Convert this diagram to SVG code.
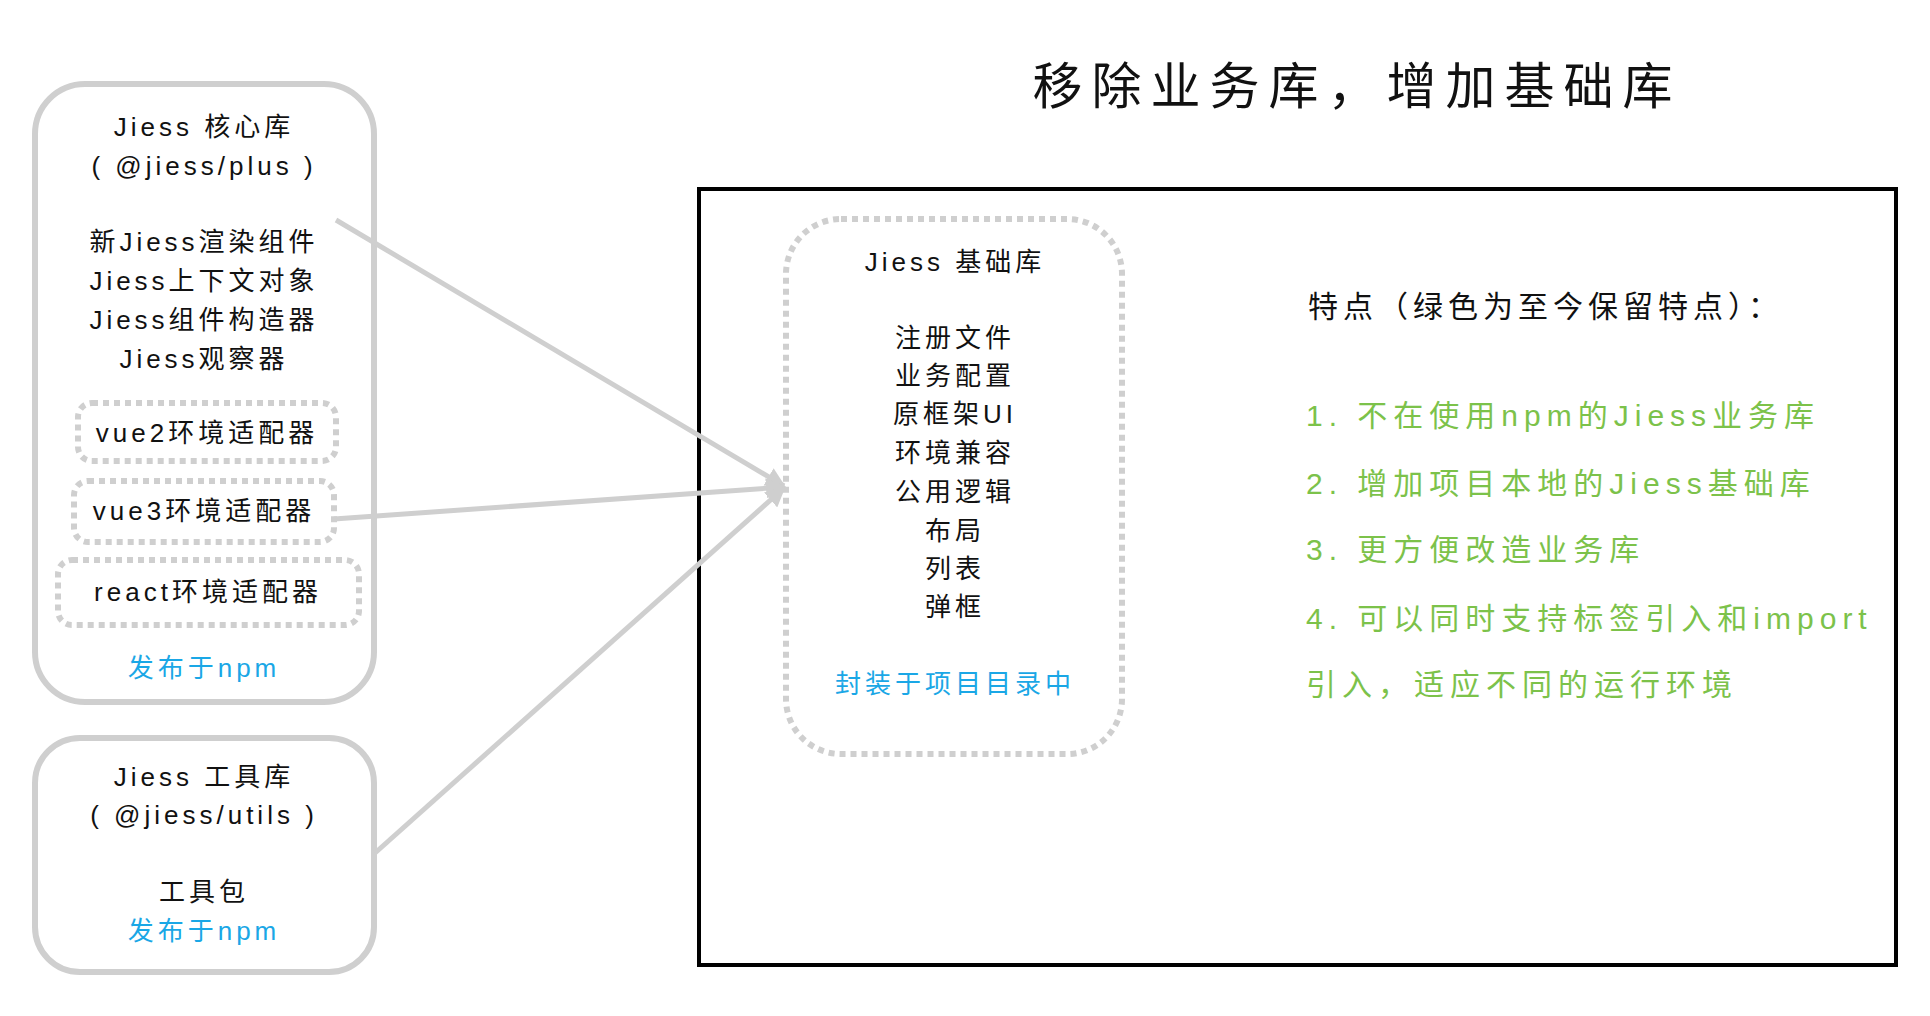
<svg xmlns="http://www.w3.org/2000/svg" width="1930" height="1016" viewBox="0 0 1930 1016">
<style>
text{font-family:"Liberation Sans","Noto Sans CJK SC",sans-serif;font-size:26px;fill:#111;text-anchor:middle;letter-spacing:4px}
.blue{fill:#1aa7e6}
.green{fill:#7cc24a;text-anchor:start;font-size:30px;letter-spacing:6px}
.solid{fill:#fff;stroke:#cfcfcf;stroke-width:6}
.dot{fill:none;stroke:#cfcfcf;stroke-width:6;stroke-dasharray:6 5}
.conn{stroke:#cfcfcf;stroke-width:5;fill:none}
</style>
<defs><marker id="ah" viewBox="0 0 10 10" refX="9" refY="5" markerWidth="4" markerHeight="4" orient="auto"><path d="M0,0L10,5L0,10z" fill="#cfcfcf"/></marker></defs>
<rect width="1930" height="1016" fill="#fff"/>
<text x="1357" y="104" style="font-size:50px;letter-spacing:9px">移除业务库，增加基础库</text>
<g id="core">
<rect class="solid" x="35" y="84" width="339" height="618" rx="50"/>
<text x="204" y="136">Jiess 核心库</text>
<text x="204" y="175">( @jiess/plus )</text>
<text x="204" y="251">新Jiess渲染组件</text>
<text x="204" y="290">Jiess上下文对象</text>
<text x="204" y="329">Jiess组件构造器</text>
<text x="204" y="368">Jiess观察器</text>
<text x="204" y="677" class="blue">发布于npm</text>
</g>
<g id="vue2"><rect class="dot" x="78" y="403" width="258" height="58" rx="14"/><text x="207" y="442">vue2环境适配器</text></g>
<g id="vue3"><rect class="dot" x="74" y="481" width="260" height="61" rx="14"/><text x="204" y="520">vue3环境适配器</text></g>
<g id="react"><rect class="dot" x="58" y="560" width="301" height="65" rx="14"/><text x="208" y="601">react环境适配器</text></g>
<g id="utils">
<rect class="solid" x="35" y="738" width="339" height="234" rx="45"/>
<text x="204" y="786">Jiess 工具库</text>
<text x="204" y="824">( @jiess/utils )</text>
<text x="204" y="901">工具包</text>
<text x="204" y="940" class="blue">发布于npm</text>
</g>
<g id="frame">
<rect x="699" y="189" width="1197" height="776" fill="none" stroke="#000" stroke-width="4"/>
<text x="1308" y="317" style="text-anchor:start;font-size:30px;letter-spacing:5px">特点（绿色为至今保留特点）：</text>
<text x="1306" y="426" class="green">1.  不在使用npm的Jiess业务库</text>
<text x="1306" y="494" class="green">2.  增加项目本地的Jiess基础库</text>
<text x="1306" y="560" class="green">3.  更方便改造业务库</text>
<text x="1306" y="629" class="green">4.  可以同时支持标签引入和import</text>
<text x="1306" y="695" class="green">引入，适应不同的运行环境</text>
</g>
<g id="base">
<rect class="dot" x="786" y="219" width="336" height="535" rx="55"/>
<text x="955" y="271">Jiess 基础库</text>
<text x="955" y="347">注册文件</text>
<text x="955" y="385">业务配置</text>
<text x="955" y="423">原框架UI</text>
<text x="955" y="462">环境兼容</text>
<text x="955" y="501">公用逻辑</text>
<text x="955" y="540">布局</text>
<text x="955" y="578">列表</text>
<text x="955" y="616">弹框</text>
<text x="955" y="693" class="blue">封装于项目目录中</text>
</g>
<g id="connectors">
<line class="conn" x1="336" y1="220" x2="784" y2="486" marker-end="url(#ah)"/>
<line class="conn" x1="334" y1="519" x2="784" y2="487" marker-end="url(#ah)"/>
<line class="conn" x1="375" y1="853" x2="784" y2="488" marker-end="url(#ah)"/>
</g>
</svg>
